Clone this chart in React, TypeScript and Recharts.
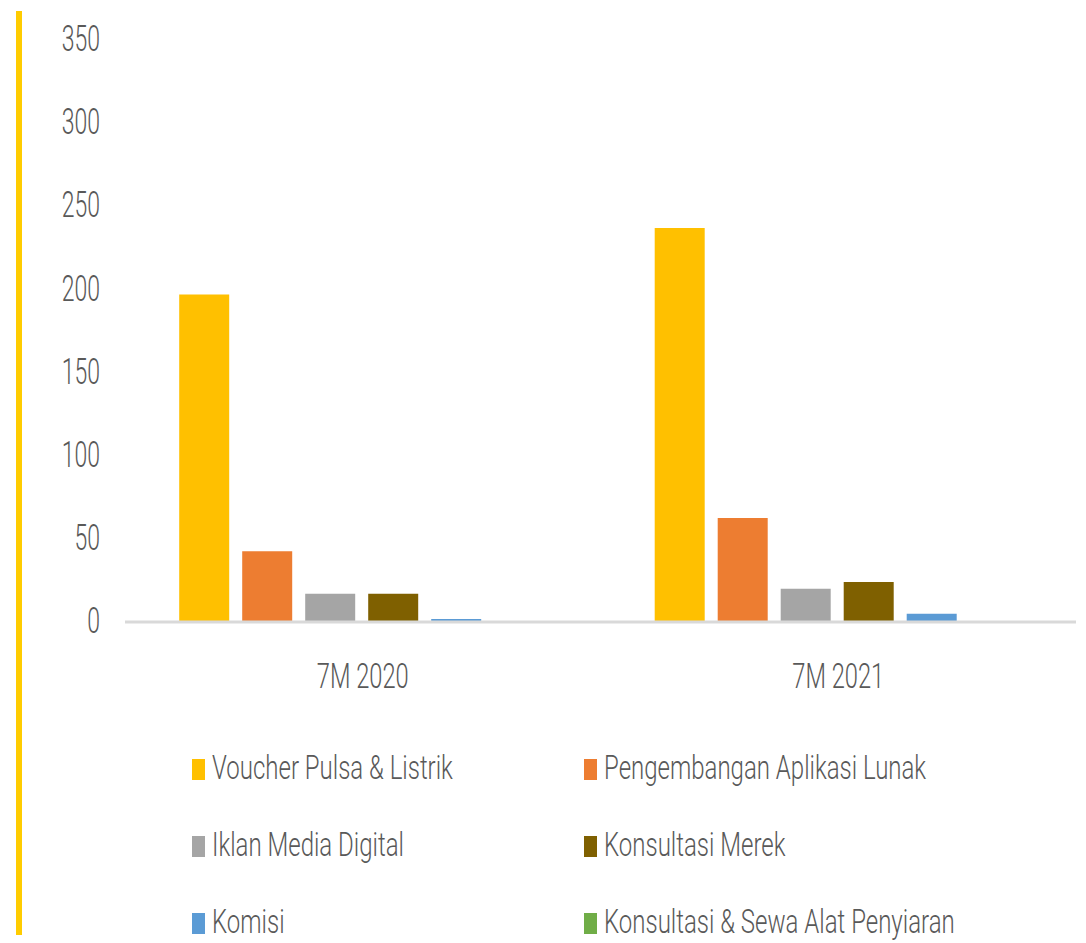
import { Bar, BarChart, Legend, XAxis, YAxis } from "recharts";

const periods = ["7M 2020", "7M 2021"];

const seriesNames = [
  "Voucher Pulsa & Listrik",
  "Pengembangan Aplikasi Lunak",
  "Iklan Media Digital",
  "Konsultasi Merek",
  "Komisi",
  "Konsultasi & Sewa Alat Penyiaran",
];

const seriesColors = ["#FFC000", "#ED7D31", "#A5A5A5", "#7F6000", "#5B9BD5", "#70AD47"];

// one array per period, in the same order as seriesNames
const values2020 = [197, 42.5, 17, 17, 1.8, 0];
const values2021 = [237, 62.5, 20, 24, 5, 0];

const yTicks = [0, 50, 100, 150, 200, 250, 300, 350];

const periodValues = [values2020, values2021];

const chartData = periods.map((period, i) => {
  const row: Record<string, string | number> = { period };
  seriesNames.forEach((name, j) => {
    row[name] = periodValues[i][j];
  });
  return row;
});

const FONT = "Roboto, 'DejaVu Sans', sans-serif";
const TEXT = "#595959";

// Excel chart text is tall and narrow here, so stretch it vertically
const YTick = (props: any) => {
  const { x, y, payload } = props;
  return (
    <text
      transform={`translate(${x},${y}) scale(1,1.62)`}
      textAnchor="end"
      dy={23 * 0.3}
      fontSize={23}
      fontWeight={300}
      fontFamily={FONT}
      fill={TEXT}
    >
      {payload.value}
    </text>
  );
};

const XTick = (props: any) => {
  const { x, y, payload } = props;
  return (
    <text
      transform={`translate(${x},${y}) scale(1,1.49)`}
      textAnchor="middle"
      dy={23.7 * 0.711}
      fontSize={23.7}
      fontWeight={300}
      fontFamily={FONT}
      fill={TEXT}
    >
      {payload.value}
    </text>
  );
};

const LegendContent = () => (
  <div
    style={{
      display: "grid",
      gridTemplateColumns: "392px auto",
      paddingLeft: 192,
      paddingTop: 6,
    }}
  >
    {seriesNames.map((name, i) => (
      <div key={name} style={{ display: "flex", alignItems: "center", height: 77 }}>
        <span
          style={{
            display: "inline-block",
            width: 13,
            height: 21,
            background: seriesColors[i],
            marginRight: 7,
            marginTop: 3,
          }}
        />
        <span
          style={{
            display: "inline-block",
            fontFamily: FONT,
            fontSize: 24,
            fontWeight: 300,
            lineHeight: 1,
            color: TEXT,
            transform: "scaleY(1.4)",
            whiteSpace: "nowrap",
          }}
        >
          {name}
        </span>
      </div>
    ))}
  </div>
);

export default function App() {
  return (
    <div
      style={{
        position: "absolute",
        left: 0,
        top: 0,
        width: 1086,
        height: 943,
        background: "#fff",
      }}
    >
      {/* yellow accent bar on the left */}
      <div
        style={{
          position: "absolute",
          left: 16,
          top: 11,
          width: 6,
          height: 924,
          background: "#FFCC00",
        }}
      />
      <BarChart
        width={1086}
        height={943}
        data={chartData}
        margin={{ top: 40, right: 10, bottom: 41, left: 0 }}
        barCategoryGap="11.4%"
        barGap={13}
      >
        <XAxis
          dataKey="period"
          height={60}
          axisLine={{ stroke: "#D9D9D9", strokeWidth: 3 }}
          tickLine={false}
          tickSize={0}
          tickMargin={41}
          tick={<XTick />}
        />
        <YAxis
          width={125}
          domain={[0, 350]}
          ticks={yTicks}
          axisLine={false}
          tickLine={false}
          tickSize={0}
          tickMargin={25}
          tick={<YTick />}
        />
        <Legend
          verticalAlign="bottom"
          content={<LegendContent />}
          wrapperStyle={{ left: 0, bottom: 0, width: 1086, height: 220 }}
        />
        {seriesNames.map((name, i) => (
          <Bar
            key={name}
            dataKey={name}
            fill={seriesColors[i]}
            isAnimationActive={false}
          />
        ))}
      </BarChart>
    </div>
  );
}
